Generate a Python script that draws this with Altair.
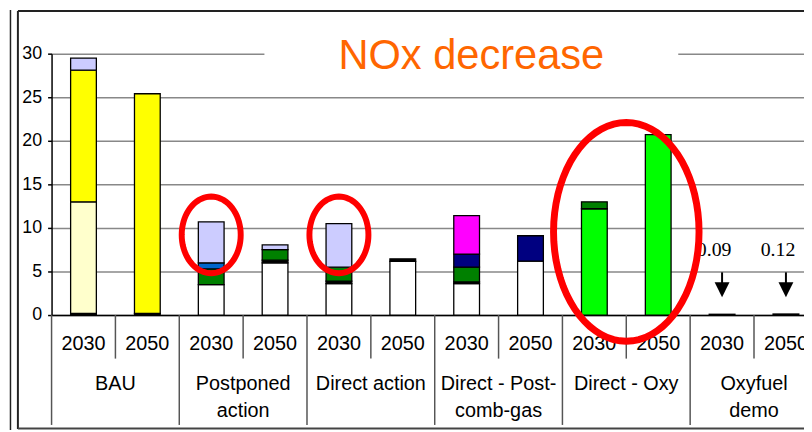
import altair as alt
import pandas as pd
import numpy as np

# ---------------- data ----------------
groups = ["BAU", "Postponed action", "Direct action", "Direct - Post-comb-gas", "Direct - Oxy", "Oxyfuel demo"]
group_line1 = ["BAU", "Postponed", "Direct action", "Direct - Post-", "Direct - Oxy", "Oxyfuel"]
group_line2 = ["", "action", "", "comb-gas", "", "demo"]
years = ["2030", "2050"]
y_ticks = [0, 5, 10, 15, 20, 25, 30]

# stacking order bottom -> top
series = ["Base", "Black", "Existing", "Oxy", "Low-NOx", "Retrofit", "Gas", "Post-comb", "Coal", "Other"]
colors = ["#FFFFFF", "#000000", "#FFFFCC", "#00FF00", "#008000", "#0066CC", "#000080", "#FF00FF", "#FFFF00", "#CCCCFF"]

# values per bar: BAU30, BAU50, PA30, PA50, DA30, DA50, PC30, PC50, OX30, OX50, OF30, OF50
v_base     = [0, 0, 3.5, 6.0, 3.6, 6.15, 3.6, 6.2, 0, 0, 0, 0]
v_black    = [0.2, 0.2, 0, 0.3, 0.3, 0.3, 0.2, 0, 0, 0, 0.09, 0.12]
v_existing = [12.8, 0, 0, 0, 0, 0, 0, 0, 0, 0, 0, 0]
v_oxy      = [0, 0, 0, 0, 0, 0, 0, 0, 12.2, 20.7, 0, 0]
v_lownox   = [0, 0, 1.8, 1.2, 1.6, 0, 1.7, 0, 0.8, 0, 0, 0]
v_retrofit = [0, 0, 0.7, 0, 0, 0, 0, 0, 0, 0, 0, 0]
v_gas      = [0, 0, 0, 0, 0, 0, 1.5, 2.9, 0, 0, 0, 0]
v_postcomb = [0, 0, 0, 0, 0, 0, 4.4, 0, 0, 0, 0, 0]
v_coal     = [15.1, 25.2, 0, 0, 0, 0, 0, 0, 0, 0, 0, 0]
v_other    = [1.4, 0, 4.7, 0.55, 5.0, 0, 0, 0, 0, 0, 0, 0]
all_values = [v_base, v_black, v_existing, v_oxy, v_lownox, v_retrofit, v_gas, v_postcomb, v_coal, v_other]

note_labels = ["0.09", "0.12"]
note_text_y = 7.5
arrow_top, arrow_bottom, arrow_head = 4.9, 3.4, 2.9

# ellipse annotations (group, year, y-centre)
ell_small_groups = ["Postponed action", "Direct action"]
ell_small_y = 9.2
ell_big_group = "Direct - Oxy"
ell_big_y = 9.55

# ---------------- tables ----------------
rows = []
for si, (s, vals) in enumerate(zip(series, all_values)):
    for k, v in enumerate(vals):
        if v > 0:
            rows.append({"group": groups[k // 2], "year": years[k % 2], "series": s, "value": v, "order": si})
df = pd.DataFrame(rows)

lab = pd.DataFrame([{"group": g, "year": y} for g in groups for y in years])
glab = pd.DataFrame({"group": groups, "l1": group_line1, "l2": group_line2})
notes = pd.DataFrame({"group": ["Oxyfuel demo"] * 2, "year": years, "label": note_labels,
                      "ty": [note_text_y] * 2, "a1": [arrow_top] * 2, "a2": [arrow_bottom] * 2, "ah": [arrow_head] * 2})
ell_small = pd.DataFrame({"group": ell_small_groups, "year": ["2030", "2030"], "y": [ell_small_y] * 2})
ell_big = pd.DataFrame({"group": [ell_big_group], "y": [ell_big_y]})
one = pd.DataFrame({"k": [0]})


def ellipse_path(rx):
    pts = []
    for i in range(73):
        t = 2 * np.pi * i / 72
        pts.append(f"{rx * np.cos(t):.4f} {np.sin(t):.4f}")
    return "M " + " L ".join(pts) + " Z"


FONT = "Liberation Sans"
xscale = alt.Scale(domain=groups, range=[0, 774], paddingInner=0, paddingOuter=0)
oscale = alt.Scale(domain=years, paddingInner=0, paddingOuter=0)
yscale = alt.Scale(domain=[0, 30], nice=False)

X = alt.X("group:N", scale=xscale, sort=groups,
          axis=alt.Axis(labels=False, ticks=False, title=None, grid=False, domainColor="black", domainWidth=1.5))
XO = alt.XOffset("year:N", scale=oscale, sort=years)

bars = alt.Chart(df).mark_bar(size=26, stroke="black", strokeWidth=1.3).encode(
    x=X,
    xOffset=XO,
    y=alt.Y("value:Q", stack="zero", scale=yscale,
            axis=alt.Axis(values=y_ticks, title=None, tickSize=4, tickColor="black", tickWidth=1.5,
                          domainColor="black", domainWidth=1.5, labelFont=FONT, labelFontSize=18,
                          labelColor="black", labelPadding=6, gridColor="#888888", gridWidth=1.5)),
    color=alt.Color("series:N", scale=alt.Scale(domain=series, range=colors), legend=None),
    order=alt.Order("order:Q"),
)

# title box + title
title_box = alt.Chart(one).mark_rect(fill="white").encode(
    x=alt.value(215), x2=alt.value(633), y=alt.value(-4), y2=alt.value(4))
title = alt.Chart(one).mark_text(text="NOx decrease", font=FONT, fontSize=42, color="#FF6600",
                                 align="center", baseline="alphabetic").encode(
    x=alt.value(424), y=alt.value(15))

# category labels
year_text = alt.Chart(lab).mark_text(font=FONT, fontSize=20, color="black", baseline="middle").encode(
    x=alt.X("group:N", scale=xscale, sort=groups), xOffset=XO, y=alt.value(293), text="year:N")
g1 = alt.Chart(glab).mark_text(font=FONT, fontSize=20, color="black", baseline="middle").encode(
    x=alt.X("group:N", scale=xscale, sort=groups), y=alt.value(334), text="l1:N")
g2 = alt.Chart(glab).mark_text(font=FONT, fontSize=20, color="black", baseline="middle").encode(
    x=alt.X("group:N", scale=xscale, sort=groups), y=alt.value(361), text="l2:N")

sep_group = alt.Chart(glab).mark_rule(color="#555555", strokeWidth=1.5).encode(
    x=alt.X("group:N", scale=xscale, sort=groups, bandPosition=0), y=alt.value(264), y2=alt.value(375))
sep_year = alt.Chart(glab).mark_rule(color="#555555", strokeWidth=1.5).encode(
    x=alt.X("group:N", scale=xscale, sort=groups, bandPosition=0.5), y=alt.value(264), y2=alt.value(308))

# notes with arrows
note_text = alt.Chart(notes).mark_text(font="Liberation Serif", fontSize=20, color="black", dx=-8,
                                       baseline="middle").encode(
    x=alt.X("group:N", scale=xscale, sort=groups), xOffset=XO, y=alt.Y("ty:Q", scale=yscale), text="label:N")
note_shaft = alt.Chart(notes).mark_rule(color="black", strokeWidth=2).encode(
    x=alt.X("group:N", scale=xscale, sort=groups), xOffset=XO,
    y=alt.Y("a1:Q", scale=yscale), y2="a2:Q")
note_head = alt.Chart(notes).mark_point(shape="M -1 -1 L 1 -1 L 0 1 Z", filled=True, fill="black",
                                        size=225, opacity=1, strokeWidth=0).encode(
    x=alt.X("group:N", scale=xscale, sort=groups), xOffset=XO, y=alt.Y("ah:Q", scale=yscale))

# red ellipses
ell1 = alt.Chart(ell_small).mark_point(shape=ellipse_path(0.77), filled=False, stroke="#FF0000",
                                       strokeWidth=6, size=5990, opacity=1).encode(
    x=alt.X("group:N", scale=xscale, sort=groups), xOffset=XO, y=alt.Y("y:Q", scale=yscale))
ell2 = alt.Chart(ell_big).mark_point(shape=ellipse_path(0.665), filled=False, stroke="#FF0000",
                                     strokeWidth=7, size=48841, opacity=1).encode(
    x=alt.X("group:N", scale=xscale, sort=groups), y=alt.Y("y:Q", scale=yscale))

# frame
fr_left = alt.Chart(one).mark_rule(color="#222222", strokeWidth=2).encode(
    x=alt.value(-34), y=alt.value(-43), y2=alt.value(379))
fr_outer = alt.Chart(one).mark_rule(color="#222222", strokeWidth=1.5).encode(
    x=alt.value(-41.5), y=alt.value(-44), y2=alt.value(380))
fr_bottom = alt.Chart(one).mark_rule(color="#444444", strokeWidth=2).encode(
    x=alt.value(-34), x2=alt.value(760), y=alt.value(378.5))
fr_top = alt.Chart(one).mark_rule(color="#222222", strokeWidth=2).encode(
    x=alt.value(-34), x2=alt.value(760), y=alt.value(-43))

chart = alt.layer(
    bars, title_box, title, year_text, g1, g2, sep_group, sep_year,
    note_text, note_shaft, note_head, fr_left, fr_outer, fr_bottom, fr_top, ell1, ell2,
).properties(
    width=760, height=264,
    autosize=alt.AutoSizeParams(type="none"),
    padding={"left": 44, "top": 44, "right": 0, "bottom": 116},
).configure_view(stroke=None)

chart.save("out.html", embed_options={"renderer": "svg", "actions": False})
